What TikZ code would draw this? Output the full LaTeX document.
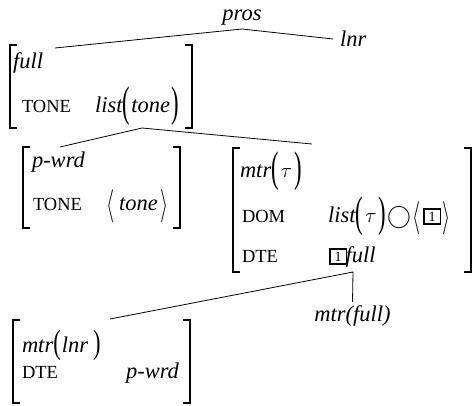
\documentclass[tikz,border=0pt]{standalone}
\usepackage{fontspec}
\setmainfont{Liberation Serif}
\usepackage{graphicx}
\usetikzlibrary{calc}
\newcommand\sm[1]{{\fontsize{18.5}{20}\selectfont #1}}
\newcommand\bp[1]{\raisebox{-4.5pt}{\scalebox{1}[1.9]{\upshape #1}}}
\newcommand\bpp[1]{\raisebox{-1.5pt}{\scalebox{1}[1.5]{\upshape #1}}}
\newcommand\ba[1]{\raisebox{-4pt}{\scalebox{1}[1.6]{$#1$}}}
\newcommand\tagbox[1]{\raisebox{1pt}{\setlength\fboxsep{2pt}\setlength\fboxrule{1.6pt}\fbox{\makebox[11pt]{\fontsize{14}{15}\selectfont #1}}}}
\newcommand\avmbrk[1]{%
  \draw[brk] ($(#1.north west)+(7,0)$) -- (#1.north west) -- (#1.south west) -- ++(7,0);
  \draw[brk] ($(#1.north east)+(-7,0)$) -- (#1.north east) -- (#1.south east) -- ++(-7,0);}
\begin{document}
\begin{tikzpicture}[x=1pt,y=-1pt,
  every node/.style={font=\fontsize{22.5}{26}\selectfont},
  txt/.style={inner sep=0pt,outer sep=0pt,anchor=base west},
  avm/.style 2 args={inner sep=0pt,outer sep=0pt,anchor=north west,
    minimum width=#1pt,minimum height=#2pt},
  brk/.style={line width=1.3pt,line join=miter},
  conn/.style={line width=0.8pt}]
\useasboundingbox (0,0) rectangle (473,405);

% top
\node[txt,anchor=base] (pros) at (242,20) {\textit{pros}};
\node[txt] (lnr) at (340,46) {\textit{lnr}};
\coordinate (proshead) at ($(pros.base)+(0,9)$);

% full AVM
\node[avm={182}{83}] (full) at (10,45) {};
\avmbrk{full}
\node[txt] (fullT) at (13,68) {\textit{full}};
\node[txt] (fullA1) at (22,112) {\sm{TONE}};
\node[txt] (fullV1) at (95,112) {\textit{list}\bp{(}\kern1pt\textit{tone}\kern1pt\bp{)}};

% p-wrd AVM
\node[avm={157}{81}] (pwrd) at (23,147) {};
\avmbrk{pwrd}
\node[txt] (pwrdT) at (32,167) {\textit{p-wrd}};
\node[txt] (pwrdA1) at (33,210) {\sm{TONE}};
\node[txt] (pwrdV1) at (106,210) {\ba{\langle}\kern5pt\textit{tone}\kern3pt\ba{\rangle}};

% mtr(tau) AVM
\node[avm={238}{124}] (mtr) at (233,148) {};
\avmbrk{mtr}
\node[txt] (mtrT) at (240,177) {\textit{mtr}\bp{(}\kern2pt$\tau$\kern3pt\bp{)}};
\node[txt] (mtrA1) at (242,222) {\sm{DOM}};
\node[txt] (mtrV1) at (328,222) {\textit{list}\bp{(}\kern2pt$\tau$\kern2pt\bp{)}\kern1pt\raisebox{-1pt}{\scalebox{1.15}{$\bigcirc$}}\kern2pt\ba{\langle}\kern2pt\tagbox{1}\kern1pt\ba{\rangle}};
\node[txt] (mtrA2) at (242,262) {\sm{DTE}};
\node[txt] (mtrV2) at (329,262) {\tagbox{1}\kern-1.5pt\textit{full}};

% mtr(lnr) AVM
\node[avm={177}{83}] (mlnr) at (13,320) {};
\avmbrk{mlnr}
\node[txt] (mlnrT) at (22,352) {\textit{mtr}\bpp{(}\kern1pt\textit{lnr}\kern5pt\bpp{)}};
\node[txt] (mlnrA1) at (22,378) {\sm{DTE}};
\node[txt,anchor=base east] (mlnrV1) at (179,378) {\textit{p-wrd}};

\node[txt,anchor=base] (mfull) at (352.5,321) {\textit{mtr(full)}};

% connectors
\coordinate (fullfoot) at ($(full.south west)+(132,0)$);
\coordinate (mtrfoot) at ($(mtr.south west)+(120,0)$);
\draw[conn] ($(full.north west)+(45,3)$) -- (proshead) -- ($(lnr.base west)+(-7,-7)$);
\draw[conn] ($(pwrd.north west)+(37,0)$) -- (fullfoot) -- ($(mtr.north west)+(79,-4)$);
\draw[conn] ($(mlnr.north west)+(97,-1)$) -- (mtrfoot) -- ($(mfull.north)+(0,-3)$);
\end{tikzpicture}
\end{document}
